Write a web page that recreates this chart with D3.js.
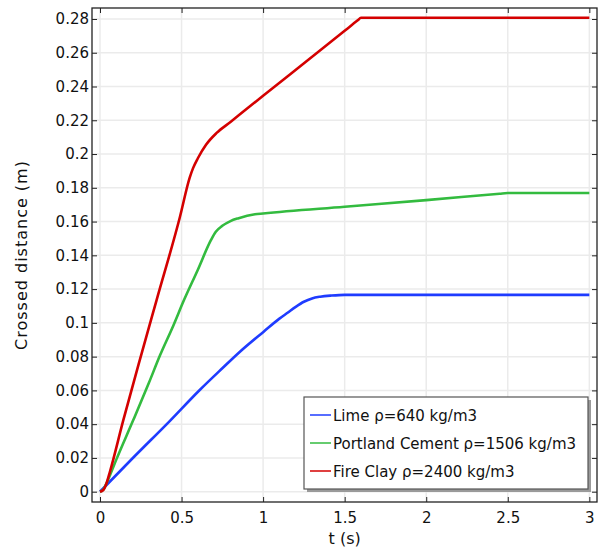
<!DOCTYPE html>
<html>
<head>
<meta charset="utf-8">
<script src="https://cdn.jsdelivr.net/npm/d3@7"></script>
<style>
  html, body { margin: 0; padding: 0; background: #fff; }
  svg { display: block; font-family: "DejaVu Sans", sans-serif; }
</style>
</head>
<body>
<svg id="chart" width="602" height="549"></svg>
<script>
// Crossed distance over time for three materials
const seriesNames = ["Lime \u03c1=640 kg/m3", "Portland Cement \u03c1=1506 kg/m3", "Fire Clay \u03c1=2400 kg/m3"];
const seriesColors = ["#1f3cff", "#33bb3f", "#d40000"];

const limeT = [0, 0.2, 0.423, 0.613, 0.75, 0.858, 1.0, 1.1, 1.15, 1.2, 1.25, 1.3, 1.35, 1.42, 1.5, 3];
const limeD = [0, 0.0198, 0.0414, 0.0604, 0.0731, 0.0829, 0.0945, 0.1025, 0.106, 0.1095, 0.1125, 0.1145, 0.1155, 0.1162, 0.1166, 0.1166];

const cementT = [0, 0.02, 0.04, 0.06, 0.1, 0.204, 0.3, 0.368, 0.45, 0.515, 0.6, 0.68, 0.71, 0.75, 0.8, 0.85, 0.95, 1.0, 1.5, 2.0, 2.45, 2.5, 3];
const cementD = [0, 0.0012, 0.005, 0.0095, 0.019, 0.0424, 0.0645, 0.0808, 0.0985, 0.1135, 0.1315, 0.149, 0.154, 0.1575, 0.1603, 0.162, 0.1643, 0.1648, 0.1688, 0.1727, 0.1765, 0.1769, 0.1769];

const clayT = [0, 0.02, 0.04, 0.06, 0.143, 0.255, 0.347, 0.49, 0.55, 0.57, 0.6, 0.65, 0.715, 0.8, 0.9, 1.0, 1.5, 1.58, 1.6, 3];
const clayD = [0, 0.001, 0.005, 0.0115, 0.0424, 0.0818, 0.1135, 0.1627, 0.186, 0.1915, 0.1975, 0.2055, 0.2125, 0.219, 0.2268, 0.2345, 0.273, 0.2792, 0.2807, 0.2807];

const xTicks = [0, 0.5, 1, 1.5, 2, 2.5, 3];
const yTicks = [0, 0.02, 0.04, 0.06, 0.08, 0.1, 0.12, 0.14, 0.16, 0.18, 0.2, 0.22, 0.24, 0.26, 0.28];

const series = [
  { name: seriesNames[0], color: seriesColors[0], t: limeT, d: limeD },
  { name: seriesNames[1], color: seriesColors[1], t: cementT, d: cementD },
  { name: seriesNames[2], color: seriesColors[2], t: clayT, d: clayD }
];

const plot = { left: 92, right: 597, top: 8, bottom: 502 };

const x = d3.scaleLinear().domain([-0.049, 3.047]).range([plot.left, plot.right]);
const y = d3.scaleLinear().domain([-0.0061, 0.2865]).range([plot.bottom, plot.top]);

const svg = d3.select("#chart");

// grid
const grid = svg.append("g").attr("stroke", "#ebebeb").attr("stroke-width", 1.5);
grid.selectAll("line.vx").data(xTicks).join("line")
  .attr("x1", d => x(d)).attr("x2", d => x(d))
  .attr("y1", plot.top).attr("y2", plot.bottom);
grid.selectAll("line.hy").data(yTicks).join("line")
  .attr("x1", plot.left).attr("x2", plot.right)
  .attr("y1", d => y(d)).attr("y2", d => y(d));

// curves
const line = d3.line()
  .x(p => x(p[0]))
  .y(p => y(p[1]))
  .curve(d3.curveMonotoneX);

svg.append("g").selectAll("path").data(series).join("path")
  .attr("fill", "none")
  .attr("stroke", s => s.color)
  .attr("stroke-width", 2.6)
  .attr("stroke-linejoin", "round")
  .attr("d", s => line(s.t.map((tv, i) => [tv, s.d[i]])));

const fmt = d => String(+d.toFixed(2));

// axes with inward ticks on all four sides
const axisStyle = g => {
  g.select(".domain").remove();
  g.selectAll(".tick line").attr("stroke", "#222").attr("stroke-width", 1);
  g.selectAll(".tick text").attr("fill", "#111").attr("font-size", 15)
    .attr("font-family", "DejaVu Sans, sans-serif");
};

svg.append("g").attr("transform", `translate(${plot.left},0)`)
  .call(d3.axisLeft(y).tickValues(yTicks).tickSize(-5).tickPadding(3).tickFormat(fmt))
  .call(axisStyle);
svg.append("g").attr("transform", `translate(${plot.right},0)`)
  .call(d3.axisRight(y).tickValues(yTicks).tickSize(-5).tickFormat(""))
  .call(axisStyle);
svg.append("g").attr("transform", `translate(0,${plot.bottom})`)
  .call(d3.axisBottom(x).tickValues(xTicks).tickSize(-5).tickPadding(10).tickFormat(fmt))
  .call(axisStyle);
svg.append("g").attr("transform", `translate(0,${plot.top})`)
  .call(d3.axisTop(x).tickValues(xTicks).tickSize(-5).tickFormat(""))
  .call(axisStyle);

// frame
svg.append("rect")
  .attr("x", plot.left).attr("y", plot.top)
  .attr("width", plot.right - plot.left).attr("height", plot.bottom - plot.top)
  .attr("fill", "none").attr("stroke", "#222").attr("stroke-width", 1.3);

// axis titles
svg.append("text")
  .attr("x", x(1.5)).attr("y", 544)
  .attr("text-anchor", "middle").attr("font-size", 16).attr("fill", "#111")
  .text("t (s)");
svg.append("text")
  .attr("transform", `translate(27,${(plot.top + plot.bottom) / 2}) rotate(-90)`)
  .attr("text-anchor", "middle").attr("font-size", 16).attr("letter-spacing", 1)
  .attr("fill", "#111")
  .text("Crossed distance (m)");

// legend
const lg = { x: 304, y: 397, w: 284, h: 92 };
svg.append("rect")
  .attr("x", lg.x + 3).attr("y", lg.y + 3).attr("width", lg.w).attr("height", lg.h)
  .attr("fill", "#9a9a9a");
svg.append("rect")
  .attr("x", lg.x).attr("y", lg.y).attr("width", lg.w).attr("height", lg.h)
  .attr("fill", "#fff").attr("stroke", "#555").attr("stroke-width", 1.2);

const rows = svg.append("g").selectAll("g").data(series).join("g")
  .attr("transform", (s, i) => `translate(${lg.x},${lg.y + 18 + i * 28})`);
rows.append("line")
  .attr("x1", 6).attr("x2", 27).attr("y1", 0).attr("y2", 0)
  .attr("stroke", s => s.color).attr("stroke-width", 1.5);
rows.append("text")
  .attr("x", 29).attr("y", 5.5)
  .attr("font-size", 15).attr("fill", "#111")
  .text(s => s.name);
</script>
</body>
</html>
